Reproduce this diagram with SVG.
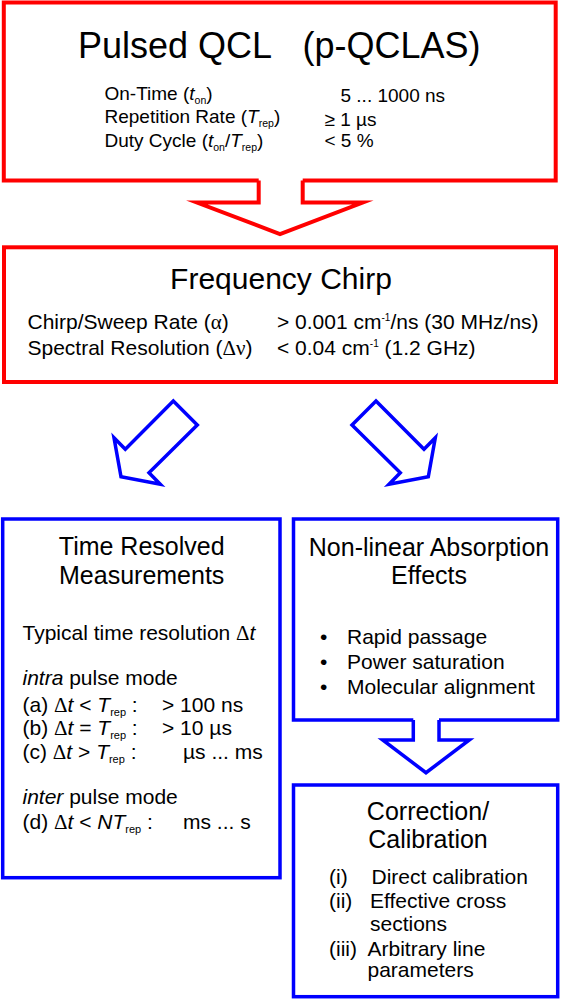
<svg xmlns="http://www.w3.org/2000/svg" width="561" height="1000" viewBox="0 0 561 1000">
<style>
.t{font-family:"Liberation Sans",Arial,sans-serif;fill:#000}
.s{font-family:"Liberation Serif","Times New Roman",serif}
.i{font-style:italic}
.rb{fill:#fff;stroke:#ff0000;stroke-width:4}
.bb{fill:#fff;stroke:#0000ff;stroke-width:3.5}
.fw{fill:#fff;stroke:none}
.rl{fill:none;stroke:#ff0000;stroke-width:4;stroke-miterlimit:10}
.bl{fill:none;stroke:#0000ff;stroke-width:3.5;stroke-miterlimit:10}
.ba{fill:#fff;stroke:#0000ff;stroke-width:3.5;stroke-miterlimit:10}
</style>
<rect width="561" height="1000" fill="#fff"/>

<g id="node-pulsed-qcl">
<rect class="rb" x="3.8" y="2.5" width="551.9" height="178"/>
<text class="t" y="58" font-size="36"><tspan x="78">Pulsed QCL</tspan><tspan x="302.5">(p-QCLAS)</tspan></text>
<text class="t" x="104.5" y="99.5" font-size="19">On-Time (<tspan class="i">t</tspan><tspan font-size="10.5" dy="4">on</tspan><tspan dy="-4">)</tspan></text>
<text class="t" x="104.5" y="123" font-size="19">Repetition Rate (<tspan class="i">T</tspan><tspan font-size="10.5" dy="4">rep</tspan><tspan dy="-4">)</tspan></text>
<text class="t" x="104.5" y="146.5" font-size="19">Duty Cycle (<tspan class="i">t</tspan><tspan font-size="10.5" dy="4">on</tspan><tspan dy="-4">/</tspan><tspan class="i">T</tspan><tspan font-size="10.5" dy="4">rep</tspan><tspan dy="-4">)</tspan></text>
<text class="t" x="340.5" y="102" font-size="19">5 ... 1000 ns</text>
<text class="t" x="324.5" y="126" font-size="19">≥ 1 µs</text>
<text class="t" x="324.5" y="147" font-size="19">&lt; 5 %</text>
</g>

<g id="node-frequency-chirp">
<rect class="rb" x="4" y="247.3" width="552" height="134.7"/>
<text class="t" x="281" y="288.5" font-size="30" text-anchor="middle">Frequency Chirp</text>
<text class="t" x="27.5" y="328.5" font-size="21">Chirp/Sweep Rate (<tspan class="s">α</tspan>)<tspan x="277">&gt; 0.001 cm</tspan><tspan font-size="10" dy="-8">-1</tspan><tspan dy="8">/ns (30 MHz/ns)</tspan></text>
<text class="t" x="27.5" y="354.5" font-size="21">Spectral Resolution (<tspan class="s">Δν</tspan>)<tspan x="277">&lt; 0.04 cm</tspan><tspan font-size="10" dy="-8">-1</tspan><tspan dy="8"> (1.2 GHz)</tspan></text>
</g>

<g id="node-time-resolved">
<rect class="bb" x="2.7" y="519" width="277.3" height="358.7"/>
<text class="t" x="141.7" y="555" font-size="25" text-anchor="middle">Time Resolved</text>
<text class="t" x="141.7" y="583.5" font-size="25" text-anchor="middle">Measurements</text>
<text class="t" x="22.5" y="640" font-size="21">Typical time resolution <tspan class="s">Δ</tspan><tspan class="i">t</tspan></text>
<text class="t" x="22.5" y="685" font-size="21"><tspan class="i">intra</tspan> pulse mode</text>
<text class="t" x="22.5" y="711.5" font-size="21">(a) <tspan class="s">Δ</tspan><tspan class="i">t</tspan> &lt; <tspan class="i">T</tspan><tspan font-size="11" dy="4">rep</tspan><tspan dy="-4"> :</tspan><tspan x="162">&gt; 100 ns</tspan></text>
<text class="t" x="22.5" y="735" font-size="21">(b) <tspan class="s">Δ</tspan><tspan class="i">t</tspan> = <tspan class="i">T</tspan><tspan font-size="11" dy="4">rep</tspan><tspan dy="-4"> :</tspan><tspan x="162">&gt; 10 µs</tspan></text>
<text class="t" x="22.5" y="758.5" font-size="21">(c) <tspan class="s">Δ</tspan><tspan class="i">t</tspan> &gt; <tspan class="i">T</tspan><tspan font-size="11" dy="4">rep</tspan><tspan dy="-4"> :</tspan><tspan x="183">µs ... ms</tspan></text>
<text class="t" x="22.5" y="803.5" font-size="21"><tspan class="i">inter</tspan> pulse mode</text>
<text class="t" x="22.5" y="828.5" font-size="21">(d) <tspan class="s">Δ</tspan><tspan class="i">t</tspan> &lt; <tspan class="i">NT</tspan><tspan font-size="11" dy="4">rep</tspan><tspan dy="-4"> :</tspan><tspan x="183">ms ... s</tspan></text>
</g>

<g id="node-nonlinear">
<rect class="bb" x="293.5" y="519" width="264.2" height="201"/>
<text class="t" x="429" y="555.5" font-size="25" text-anchor="middle">Non-linear Absorption</text>
<text class="t" x="429" y="583.5" font-size="25" text-anchor="middle">Effects</text>
<text class="t" x="320" y="643.5" font-size="21">•</text>
<text class="t" x="347" y="643.5" font-size="21">Rapid passage</text>
<text class="t" x="320" y="668.5" font-size="21">•</text>
<text class="t" x="347" y="668.5" font-size="21">Power saturation</text>
<text class="t" x="320" y="693.5" font-size="21">•</text>
<text class="t" x="347" y="693.5" font-size="21">Molecular alignment</text>
</g>

<g id="node-correction">
<rect class="bb" x="293.5" y="785" width="264.2" height="211.7"/>
<text class="t" x="428" y="819.5" font-size="25" text-anchor="middle">Correction/</text>
<text class="t" x="428" y="847.5" font-size="25" text-anchor="middle">Calibration</text>
<text class="t" x="329" y="884" font-size="21">(i)</text>
<text class="t" x="371.5" y="884" font-size="21">Direct calibration</text>
<text class="t" x="329" y="907.5" font-size="21">(ii)</text>
<text class="t" x="370" y="907.5" font-size="21">Effective cross</text>
<text class="t" x="370" y="930.5" font-size="21">sections</text>
<text class="t" x="329" y="955.5" font-size="21">(iii)</text>
<text class="t" x="367.5" y="955.5" font-size="21">Arbitrary line</text>
<text class="t" x="367.5" y="977" font-size="21">parameters</text>
</g>

<g id="connectors">
<polygon class="fw" points="258.7,177 302.7,177 302.7,202.5 362.7,202.5 280,234 197,202.5 258.7,202.5"/>
<polyline class="rl" points="258.7,180.5 258.7,202.5 197,202.5 280,234 362.7,202.5 302.7,202.5 302.7,180.5"/>
<polygon class="ba" points="173.3,401 197.3,425 149,472.7 160.3,484.3 121,476.7 114,437.7 125.3,449.3"/>
<polygon class="ba" points="376,401 352,425 400.3,472.7 389,484.3 428.3,476.7 435.3,437.7 424,449.3"/>
<polygon class="fw" points="413.3,717 439,717 439,740 469.3,740 426,772.7 382.7,740 413.3,740"/>
<polyline class="bl" points="413.3,720 413.3,740 382.7,740 426,772.7 469.3,740 439,740 439,720"/>
</g>
</svg>
